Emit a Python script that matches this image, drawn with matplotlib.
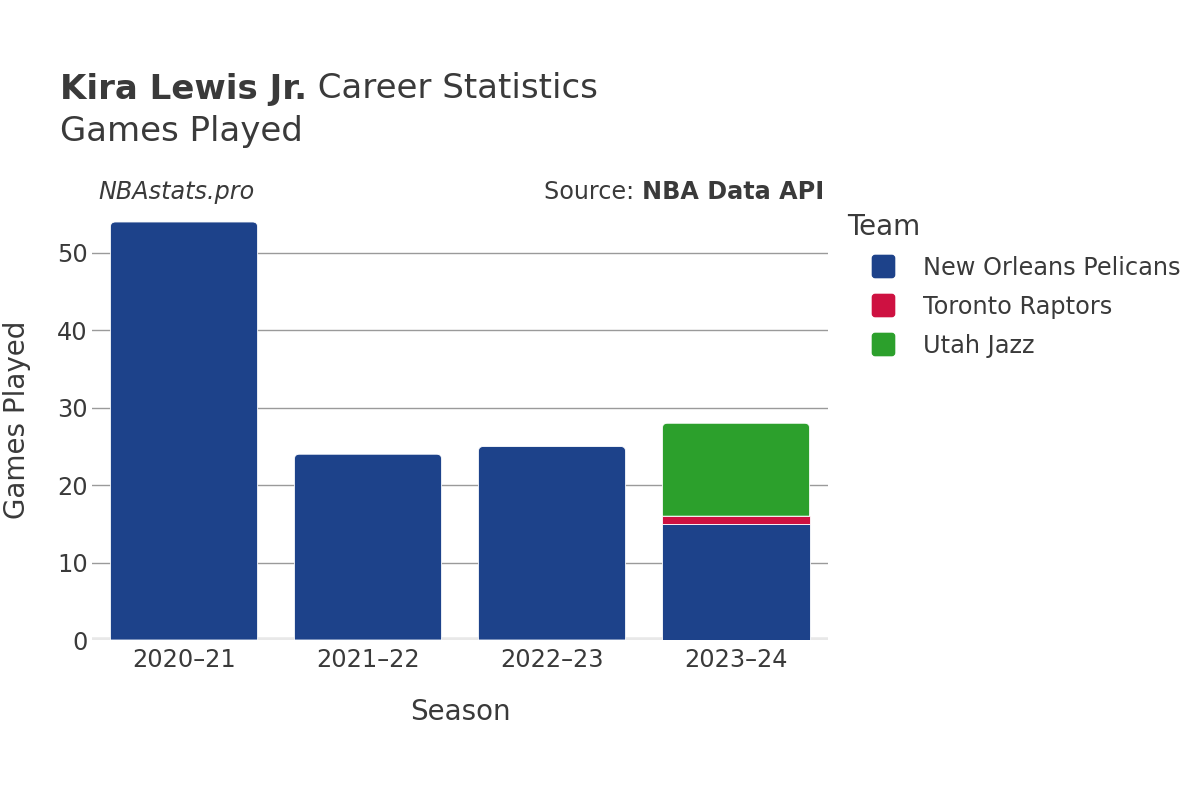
import matplotlib
matplotlib.use("Agg")
import matplotlib.pyplot as plt
from matplotlib.patches import PathPatch
from matplotlib.path import Path
from matplotlib.lines import Line2D

# datos
seasons = ["2020–21", "2021–22", "2022–23", "2023–24"]
teams = ["New Orleans Pelicans", "Toronto Raptors", "Utah Jazz"]
pelicans = [54, 24, 25, 15]
raptors = [0, 0, 0, 1]
jazz = [0, 0, 0, 12]
team_colors = ["#1d428a", "#ce1141", "#2ca02c"]

TEXT = "#3a3a3a"
W, H = 1200, 800
AX_L, AX_R, AX_T, AX_B = 92, 828, 200, 640


def rounded_top(x0, y0, w, h, rx, ry):
    """Path de un rectangulo con las esquinas de arriba redondeadas."""
    verts = [
        (x0, y0), (x0 + w, y0), (x0 + w, y0 + h - ry),
        (x0 + w, y0 + h), (x0 + w - rx, y0 + h),
        (x0 + rx, y0 + h),
        (x0, y0 + h), (x0, y0 + h - ry),
        (x0, y0),
    ]
    codes = [Path.MOVETO, Path.LINETO, Path.LINETO,
             Path.CURVE3, Path.CURVE3,
             Path.LINETO,
             Path.CURVE3, Path.CURVE3,
             Path.CLOSEPOLY]
    return Path(verts, codes)


def rounded_square(r=0.25):
    verts = [
        (-1 + r, -1), (1 - r, -1), (1, -1), (1, -1 + r),
        (1, 1 - r), (1, 1), (1 - r, 1),
        (-1 + r, 1), (-1, 1), (-1, 1 - r),
        (-1, -1 + r), (-1, -1), (-1 + r, -1),
        (-1 + r, -1),
    ]
    codes = [Path.MOVETO, Path.LINETO, Path.CURVE3, Path.CURVE3,
             Path.LINETO, Path.CURVE3, Path.CURVE3,
             Path.LINETO, Path.CURVE3, Path.CURVE3,
             Path.LINETO, Path.CURVE3, Path.CURVE3,
             Path.CLOSEPOLY]
    return Path(verts, codes)


plt.rcParams["font.family"] = ["DejaVu Sans"]
fig = plt.figure(figsize=(W / 100, H / 100), dpi=100)
ax = fig.add_axes([AX_L / W, 1 - AX_B / H, (AX_R - AX_L) / W, (AX_B - AX_T) / H])

x = list(range(len(seasons)))
width = 0.8
ymax = 56.84
ax.set_xlim(-0.5, len(seasons) - 0.5)
ax.set_ylim(0, ymax)

# px por unidad de datos, para las esquinas redondeadas
px_x = (AX_R - AX_L) / len(seasons)
px_y = (AX_B - AX_T) / ymax
radius_px = 5
rx = radius_px / px_x
ry = radius_px / px_y

series = [pelicans, raptors, jazz]
bottoms = [0] * len(seasons)
tops = [max(i for i, s in enumerate(series) if s[k] > 0) for k in range(len(seasons))]

for i, (vals, color) in enumerate(zip(series, team_colors)):
    bars = ax.bar(x, vals, width, bottom=bottoms, color=color,
                  edgecolor="white", linewidth=0.6, zorder=3)
    for k, b in enumerate(bars):
        if vals[k] <= 0:
            b.set_visible(False)
            continue
        if tops[k] == i:
            b.set_visible(False)
            ax.add_patch(PathPatch(
                rounded_top(b.get_x(), b.get_y(), b.get_width(), b.get_height(), rx, ry),
                facecolor=color, edgecolor="white", linewidth=0.6, zorder=3))
    bottoms = [b + v for b, v in zip(bottoms, vals)]

ax.set_yticks([0, 10, 20, 30, 40, 50])
ax.set_xticks(x)
ax.set_xticklabels(seasons)
ax.yaxis.grid(True, color="#9a9a9a", linewidth=1)
ax.set_axisbelow(True)
for s in ax.spines.values():
    s.set_visible(False)
ax.axhline(0, color="#e8e8e8", linewidth=4, zorder=2)
ax.tick_params(axis="y", length=0, labelsize=17.3, labelcolor=TEXT, pad=3)
ax.tick_params(axis="x", length=0, labelsize=17.3, labelcolor=TEXT, pad=6)

fig.text((AX_L + AX_R) / 2 / W, 1 - 712 / H, "Season", fontsize=20,
         color=TEXT, ha="center", va="center")
fig.text(17 / W, 1 - 420 / H, "Games Played", fontsize=20, color=TEXT,
         ha="center", va="center", rotation=90)

# titulos
fig.canvas.draw()
r = fig.canvas.get_renderer()
t1 = fig.text(60 / W, 1 - 89 / H, "Kira Lewis Jr.", fontsize=24.5,
              fontweight="bold", color=TEXT, va="center", ha="left")
bb = t1.get_window_extent(r)
fig.text(bb.x1 / W, 1 - 89 / H, " Career Statistics", fontsize=24.5,
         color=TEXT, va="center", ha="left")
fig.text(60 / W, 1 - 132 / H, "Games Played", fontsize=24.5, color=TEXT,
         va="center", ha="left")

fig.text(98 / W, 1 - 192 / H, "NBAstats.pro", fontsize=17.2, style="italic",
         color=TEXT, va="center", ha="left")
t2 = fig.text(824 / W, 1 - 192 / H, "NBA Data API", fontsize=17.2,
              fontweight="bold", color=TEXT, va="center", ha="right")
bb2 = t2.get_window_extent(r)
fig.text(bb2.x0 / W, 1 - 192 / H, "Source: ", fontsize=17.2, color=TEXT,
         va="center", ha="right")

# leyenda
marker = rounded_square()
handles = [Line2D([], [], marker=marker, linestyle="", markersize=16,
                  markerfacecolor=c, markeredgecolor=c) for c in team_colors]
leg = fig.legend(handles, teams, loc="upper left",
                 bbox_to_anchor=(847 / W, 1 - 213 / H), frameon=False,
                 title="Team", title_fontsize=20, fontsize=17.3,
                 alignment="left", labelspacing=0.62, handletextpad=0.17,
                 handlelength=3.0, borderaxespad=0, borderpad=0)
for t in leg.get_texts():
    t.set_color(TEXT)
leg.get_title().set_color(TEXT)

fig.savefig("out.png", dpi=100, facecolor="white")
